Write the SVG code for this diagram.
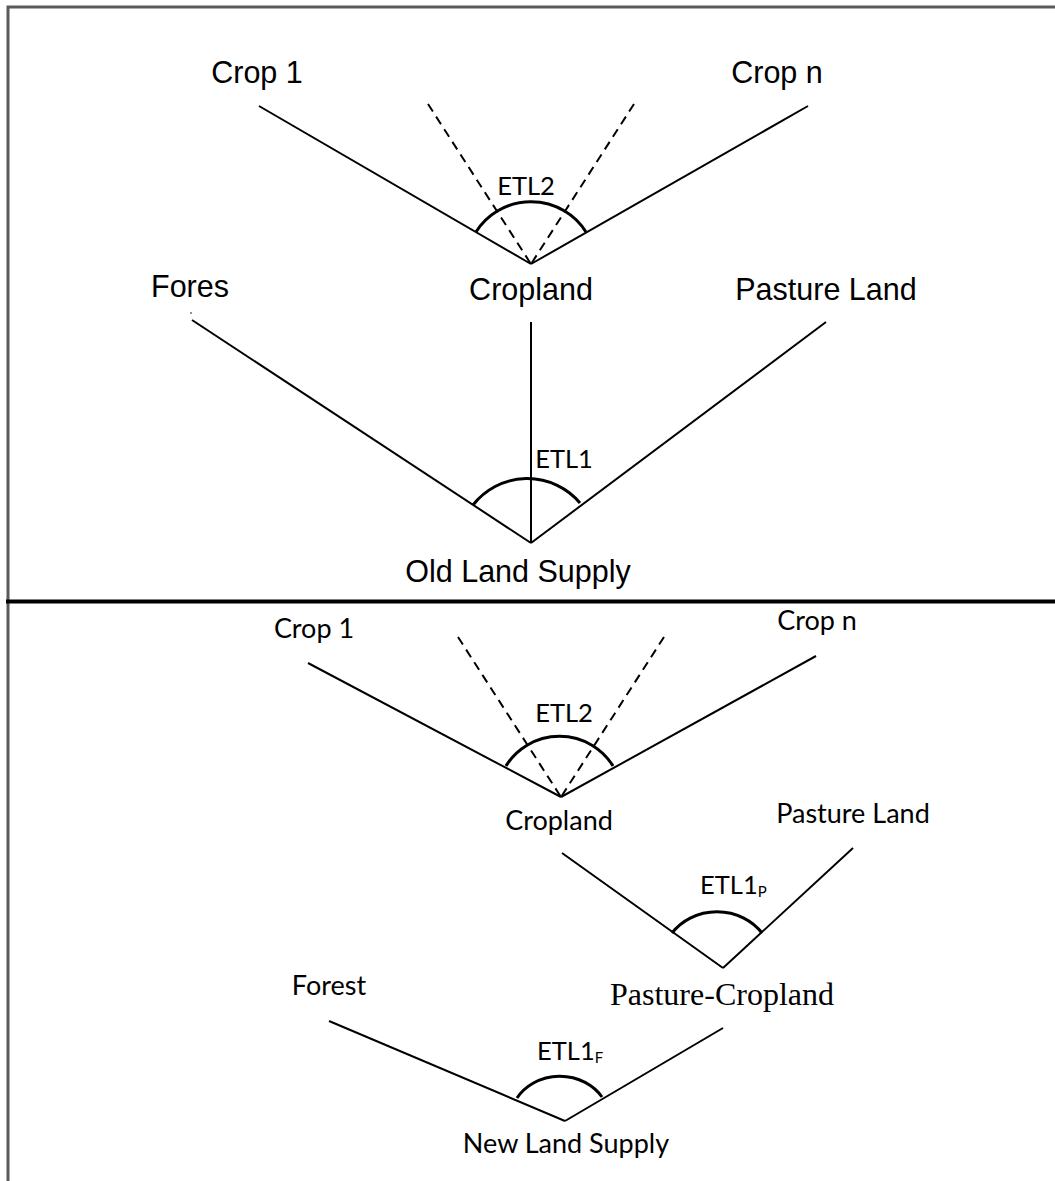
<svg xmlns="http://www.w3.org/2000/svg" width="1055" height="1181" viewBox="0 0 1055 1181">
<style>
.a{font-family:"Liberation Sans",Arial,sans-serif;font-size:30.5px;fill:#000}
.c{font-family:Lato,"Open Sans",sans-serif;font-size:27px;fill:#000}
.e{font-family:Lato,"Open Sans",sans-serif;font-size:25.5px;fill:#000}
.t{font-family:"Liberation Serif","Times New Roman",serif;font-size:32px;fill:#000}
.l{stroke:#000;stroke-width:2;fill:none}
.d{stroke:#000;stroke-width:2;fill:none;stroke-dasharray:9 6}
.arc{stroke:#000;stroke-width:3;fill:none}
</style>
<rect width="1055" height="1181" fill="#fff"/>
<g id="frame">
<path d="M8 1181 V7 H1055" stroke="#5a5a5a" stroke-width="3" fill="none"/>
<line x1="6" y1="601.5" x2="1055" y2="601.5" stroke="#000" stroke-width="4"/>
</g>
<g id="connectors">
<line class="l" x1="259" y1="106" x2="531" y2="264"/>
<line class="l" x1="808" y1="106" x2="531" y2="264"/>
<line class="d" x1="428" y1="104" x2="531" y2="264"/>
<line class="d" x1="634" y1="104" x2="531" y2="264"/>
<path class="arc" d="M476 232 A64 62 0 0 1 586 232"/>
<circle cx="191" cy="313" r="0.8" fill="#000"/>
<line class="l" x1="192" y1="320" x2="531" y2="543"/>
<line class="l" x1="531" y1="322" x2="531" y2="543"/>
<line class="l" x1="826" y1="322" x2="531" y2="543"/>
<path class="arc" d="M473 505 A69 69 0 0 1 580 503"/>
<line class="l" x1="308" y1="663" x2="561" y2="797"/>
<line class="l" x1="816" y1="656" x2="561" y2="797"/>
<line class="d" x1="458" y1="637" x2="561" y2="797"/>
<line class="d" x1="664" y1="637" x2="561" y2="797"/>
<path class="arc" d="M506 766 A62 60 0 0 1 613 766"/>
<line class="l" x1="562" y1="853" x2="723" y2="968"/>
<line class="l" x1="853" y1="848" x2="723" y2="968"/>
<path class="arc" d="M672 933 A55 50 0 0 1 762 933"/>
<line class="l" x1="329" y1="1021" x2="565" y2="1121"/>
<line class="l" x1="723" y1="1028" x2="565" y2="1121"/>
<path class="arc" d="M517 1098 A50 45 0 0 1 602 1097"/>
</g>
<g id="crop1-top"><text class="a" x="257" y="83" text-anchor="middle">Crop 1</text></g>
<g id="cropn-top"><text class="a" x="777" y="83" text-anchor="middle">Crop n</text></g>
<g id="etl2-top"><text class="e" x="526" y="195" text-anchor="middle">ETL2</text></g>
<g id="fores"><text class="a" x="190" y="297" text-anchor="middle">Fores</text></g>
<g id="cropland-top"><text class="a" x="531" y="300" text-anchor="middle">Cropland</text></g>
<g id="pasture-top"><text class="a" x="826" y="300" text-anchor="middle">Pasture Land</text></g>
<g id="etl1-top"><text class="e" x="564" y="468" text-anchor="middle">ETL1</text></g>
<g id="old-land-supply"><text class="a" x="518" y="582" text-anchor="middle">Old Land Supply</text></g>
<g id="crop1-bottom"><text class="c" x="314" y="638" text-anchor="middle">Crop 1</text></g>
<g id="cropn-bottom"><text class="c" x="817" y="630" text-anchor="middle">Crop n</text></g>
<g id="etl2-bottom"><text class="e" x="564" y="722" text-anchor="middle">ETL2</text></g>
<g id="cropland-bottom"><text class="c" x="559" y="830" text-anchor="middle">Cropland</text></g>
<g id="pasture-bottom"><text class="c" x="853" y="823" text-anchor="middle">Pasture Land</text></g>
<g id="etl1p"><text class="e" x="700" y="894">ETL1<tspan font-size="15" dy="3">P</tspan></text></g>
<g id="pasture-cropland"><text class="t" x="722" y="1005" text-anchor="middle">Pasture-Cropland</text></g>
<g id="forest"><text class="c" x="329" y="995" text-anchor="middle">Forest</text></g>
<g id="etl1f"><text class="e" x="537" y="1060">ETL1<tspan font-size="15" dy="3">F</tspan></text></g>
<g id="new-land-supply"><text class="c" x="566" y="1153" text-anchor="middle">New Land Supply</text></g>
</svg>
